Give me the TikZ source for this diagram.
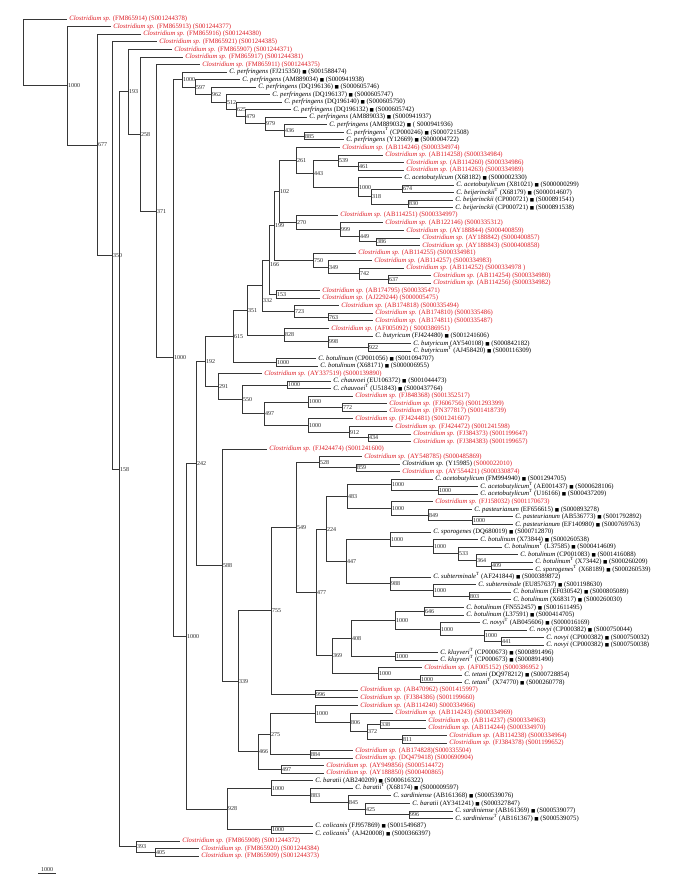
\documentclass[tikz,border=0pt]{standalone}
\usepackage{fontspec}
\setmainfont{Liberation Serif}
\newfontfamily\symf{DejaVu Sans}
\usetikzlibrary{calc}
\definecolor{cred}{RGB}{222,30,38}
\definecolor{brc}{RGB}{55,55,55}
\newcommand{\rcl}[2]{\textcolor{cred}{\textit{Clostridium sp.} (#1) (#2)}}
\newcommand{\blk}{{\symf\fontsize{4.6}{4.6}\selectfont ■}}
\newcommand{\spc}[4]{\textit{C. #1}#2 (#3) \blk{} (#4)}
\newcommand{\tT}{\textsuperscript{T}}
\newcommand{\leaf}[3]{\node[lf] (L#1) at (#2,{19.3+(#1-1)*7.54}) {#3};}
\newcommand{\inode}[6][0]{%
  \path let \p1=($(#4)!.5!(#5)$) in coordinate (#2) at (#3pt,\y1);%
  \draw[br] (#2) |- (#4);%
  \draw[br] (#2) |- (#5);%
  \node[bs] (#2t) at ([yshift=-#1pt]#2) {#6};}
\begin{document}
\begin{tikzpicture}[x=1pt,y=-1pt,
  lf/.style={anchor=west,inner xsep=2.2pt,inner ysep=0pt,text height=4.6pt,text depth=1.4pt,font=\fontsize{6.7}{7}\selectfont},
  bs/.style={anchor=west,inner xsep=1pt,inner ysep=0pt,text height=4.2pt,text depth=0.3pt,font=\fontsize{6}{6}\selectfont,text=black!85},
  br/.style={draw=brc,line width=0.9pt}]
\fill[white] (0,0) rectangle (685,886);
\useasboundingbox (0,0) rectangle (685,886);
% leaves
\leaf{1}{67}{\rcl{FM865914}{S001244378}}
\leaf{2}{111}{\rcl{FM865913}{S001244377}}
\leaf{3}{141}{\rcl{FM865916}{S001244380}}
\leaf{4}{157}{\rcl{FM865921}{S001244385}}
\leaf{5}{172}{\rcl{FM865907}{S001244371}}
\leaf{6}{183}{\rcl{FM865917}{S001244381}}
\leaf{7}{200}{\rcl{FM865911}{S001244375}}
\leaf{8}{227}{\spc{perfringens}{}{FJ215350}{S001588474}}
\leaf{9}{240}{\spc{perfringens}{}{AM889034}{S000941938}}
\leaf{10}{256}{\spc{perfringens}{}{DQ196136}{S000605746}}
\leaf{11}{270}{\spc{perfringens}{}{DQ196137}{S000605747}}
\leaf{12}{282}{\spc{perfringens}{}{DQ196140}{S000605750}}
\leaf{13}{291}{\spc{perfringens}{}{DQ196132}{S000605742}}
\leaf{14}{307}{\spc{perfringens}{}{AM889033}{S000941937}}
\leaf{15}{327}{\spc{perfringens}{}{AM889032}{ S000941936}}
\leaf{16}{344}{\spc{perfringens}{\tT}{CP000246}{S000721508}}
\leaf{17}{344}{\spc{perfringens}{}{Y12669}{S000004722}}
\leaf{18}{340}{\rcl{AB114246}{S000334974}}
\leaf{19}{383}{\rcl{AB114258}{S000334984}}
\leaf{20}{404}{\rcl{AB114260}{S000334986}}
\leaf{21}{404}{\rcl{AB114263}{S000334989}}
\leaf{22}{402}{\spc{acetobutylicum}{}{X68182}{S000002330}}
\leaf{23}{454}{\spc{acetobutylicum}{}{X81021}{S000000299}}
\leaf{24}{454}{\spc{beijerinckii}{\tT}{X68179}{S000014607}}
\leaf{25}{453}{\spc{beijerinckii}{}{CP000721}{S000891541}}
\leaf{26}{453}{\spc{beijerinckii}{}{CP000721}{S000891538}}
\leaf{27}{338}{\rcl{AB114251}{S000334997}}
\leaf{28}{383}{\rcl{AB122146}{S000335312}}
\leaf{29}{404}{\rcl{AY188844}{S000400859}}
\leaf{30}{420}{\rcl{AY188842}{S000400857}}
\leaf{31}{420}{\rcl{AY188843}{S000400858}}
\leaf{32}{356}{\rcl{AB114255}{S000334981}}
\leaf{33}{372}{\rcl{AB114257}{S000334983}}
\leaf{34}{404}{\rcl{AB114252}{S000334978 }}
\leaf{35}{431}{\rcl{AB114254}{S000334980}}
\leaf{36}{431}{\rcl{AB114256}{S000334982}}
\leaf{37}{320}{\rcl{AB174795}{S000335471}}
\leaf{38}{320}{\rcl{AJ229244}{S000005475}}
\leaf{39}{339}{\rcl{AB174818}{S000335494}}
\leaf{40}{373}{\rcl{AB174810}{S000335486}}
\leaf{41}{373}{\rcl{AB174811}{S000335487}}
\leaf{42}{329}{\rcl{AF005092}{ S000386951}}
\leaf{43}{373}{\spc{butyricum}{}{FJ424480}{S001241606}}
\leaf{44}{411}{\spc{butyricum}{}{AY540108}{S000842182}}
\leaf{45}{411}{\spc{butyricum}{\tT}{AJ458420}{S000116309}}
\leaf{46}{316}{\spc{botulinum}{}{CP001056}{S001094707}}
\leaf{47}{318}{\spc{botulinum}{}{X68171}{S000006955}}
\leaf{48}{262}{\rcl{AY337519}{S000139890}}
\leaf{49}{331}{\spc{chauvoei}{}{EU106372}{S001044473}}
\leaf{50}{331}{\spc{chauvoei}{\tT}{U51843}{S000437764}}
\leaf{51}{353}{\rcl{FJ848368}{S001352517}}
\leaf{52}{387}{\rcl{FJ606756}{S001293399}}
\leaf{53}{387}{\rcl{FN377817}{S001418739}}
\leaf{54}{353}{\rcl{FJ424481}{S001241607}}
\leaf{55}{393}{\rcl{FJ424472}{S001241598}}
\leaf{56}{411}{\rcl{FJ384373}{S001199647}}
\leaf{57}{411}{\rcl{FJ384383}{S001199657}}
\leaf{58}{267}{\rcl{FJ424474}{S001241600}}
\leaf{59}{362}{\rcl{AY548785}{S000485869}}
\leaf{60}{400}{\textit{Clostridium sp.} (Y15985) \textcolor{cred}{(S000022010)}}
\leaf{61}{400}{\rcl{AY554421}{S000330874}}
\leaf{62}{433}{\spc{acetobutylicum}{}{FM994940}{S001294705}}
\leaf{63}{478}{\spc{acetobutylicum}{\tT}{AE001437}{S000628106}}
\leaf{64}{478}{\spc{acetobutylicum}{\tT}{U16166}{S000437209}}
\leaf{65}{433}{\rcl{FJ158032}{S001170673}}
\leaf{66}{472}{\spc{pasteurianum}{}{EF656615}{S000893278}}
\leaf{67}{513}{\spc{pasteurianum}{}{AB536773}{S001792892}}
\leaf{68}{513}{\spc{pasteurianum}{}{EF140980}{S000769763}}
\leaf{69}{431}{\spc{sporogenes}{}{DQ680019}{S000712870}}
\leaf{70}{478}{\spc{botulinum}{}{X73844}{S000260538}}
\leaf{71}{502}{\spc{botulinum}{\tT}{L37585}{S000414609}}
\leaf{72}{518}{\spc{botulinum}{}{CP001083}{S001416088}}
\leaf{73}{533}{\spc{botulinum}{\tT}{X73442}{S000260209}}
\leaf{74}{533}{\spc{sporogenes}{\tT}{X68189}{S000260539}}
\leaf{75}{431}{\spc{subterminale}{\tT}{AF241844}{S000389872}}
\leaf{76}{476}{\spc{subterminale}{}{EU857637}{S001198630}}
\leaf{77}{511}{\spc{botulinum}{}{EF030542}{S000805089}}
\leaf{78}{511}{\spc{botulinum}{}{X68317}{S000260030}}
\leaf{79}{464}{\spc{botulinum}{}{FN552457}{S001611495}}
\leaf{80}{464}{\spc{botulinum}{}{L37591}{S000414705}}
\leaf{81}{480}{\spc{novyi}{\tT}{AB045606}{S000016169}}
\leaf{82}{527}{\spc{novyi}{}{CP000382}{S000750044}}
\leaf{83}{544}{\spc{novyi}{}{CP000382}{S000750032}}
\leaf{84}{544}{\spc{novyi}{}{CP000382}{S000750038}}
\leaf{85}{438}{\spc{kluyveri}{\tT}{CP000673}{S000891496}}
\leaf{86}{438}{\spc{kluyveri}{\tT}{CP000673}{S000891490}}
\leaf{87}{422}{\rcl{AF005152}{S000386952 }}
\leaf{88}{462}{\spc{tetani}{}{DQ978212}{S000728854}}
\leaf{89}{462}{\spc{tetani}{\tT}{X74770}{S000260778}}
\leaf{90}{358}{\rcl{AB470962}{S001415997}}
\leaf{91}{358}{\rcl{FJ384386}{S001199660}}
\leaf{92}{358}{\textcolor{cred}{\textit{Clostridium sp.} (AB114240) S000334966)}}
\leaf{93}{393}{\rcl{AB114243}{S000334969}}
\leaf{94}{426}{\rcl{AB114237}{S000334963}}
\leaf{95}{426}{\rcl{AB114244}{S000334970}}
\leaf{96}{447}{\rcl{AB114238}{S000334964}}
\leaf{97}{447}{\rcl{FJ384378}{S001199652}}
\leaf{98}{353}{\textcolor{cred}{\textit{Clostridium sp.} (AB174828)(S000335504)}}
\leaf{99}{353}{\rcl{DQ479418}{S000690904}}
\leaf{100}{324}{\rcl{AY949856}{S000514472}}
\leaf{101}{324}{\rcl{AY188850}{S000400865}}
\leaf{102}{313}{\spc{baratii}{}{AB240209}{S000616322}}
\leaf{103}{353}{\spc{baratii}{\tT}{X68174}{S000009597}}
\leaf{104}{391}{\spc{sardiniense}{}{AB161368}{S000539076}}
\leaf{105}{410}{\spc{baratii}{}{AY341241}{S000327847}}
\leaf{106}{453}{\spc{sardiniense}{}{AB161369}{S000539077}}
\leaf{107}{453}{\spc{sardiniense}{\tT}{AB161367}{S000539075}}
\leaf{108}{313}{\spc{colicanis}{}{FJ957869}{S001549687}}
\leaf{109}{313}{\spc{colicanis}{\tT}{AJ420008}{S000366397}}
\leaf{110}{180}{\rcl{FM865908}{S001244372}}
\leaf{111}{199}{\rcl{FM865920}{S001244384}}
\leaf{112}{199}{\rcl{FM865909}{S001244373}}
% perfringens clade
\inode{Na885}{304}{L16}{L17}{885}
\inode{Na436}{284}{L15}{Na885}{436}
\inode{Na979}{265}{L14}{Na436}{979}
\inode{Na479}{245}{L13}{Na979}{479}
\inode{Na625}{236}{L12}{Na479}{625}
\inode{Na512}{226}{L11}{Na625}{512}
\inode{Na962}{211}{L10}{Na512}{962}
\inode{Na597}{195}{L9}{Na962}{597}
\inode{NPf}{182}{L8}{Na597}{1000}
% butyricum-beijerinckii group
\inode{Nb461}{358}{L20}{L21}{461}
\inode{Nb539}{338}{L19}{Nb461}{539}
\inode{Nb674}{402}{L23}{L24}{674}
\inode{Nb830}{408}{L25}{L26}{830}
\inode{Nb318}{371}{Nb674}{Nb830}{318}
\inode{NAc}{358}{L22}{Nb318}{1000}
\inode{Nb443}{313}{Nb539}{NAc}{443}
\inode{Nb261}{296}{L18}{Nb443}{261}
\inode{Nb386}{376}{L30}{L31}{386}
\inode{Nb449}{359}{L29}{Nb386}{449}
\inode{Nb999}{340}{L28}{Nb449}{999}
\inode{Nb270}{296}{L27}{Nb999}{270}
\inode{Nb102}{279}{Nb261}{Nb270}{102}
\inode{Nb637}{388}{L35}{L36}{637}
\inode{Nb742}{359}{L34}{Nb637}{742}
\inode{Nb349}{328}{L33}{Nb742}{349}
\inode{Nb750}{313}{L32}{Nb349}{750}
\inode{Nb199}{274}{Nb102}{Nb750}{199}
\inode{Nb153}{276}{L37}{L38}{153}
\inode[4]{Nb166}{269}{Nb199}{Nb153}{166}
\inode{Nb763}{328}{L40}{L41}{763}
\inode{Nb723}{294}{L39}{Nb763}{723}
\inode[15]{Nb332}{262}{Nb166}{Nb723}{332}
\inode{Nb922}{368}{L44}{L45}{922}
\inode{Nb998}{328}{L43}{Nb922}{998}
\inode{Nb828}{284}{L42}{Nb998}{828}
\inode{Nb351}{247}{Nb332}{Nb828}{351}
\inode{NBo}{276}{L46}{L47}{1000}
\inode{Nb615}{233}{Nb351}{NBo}{615}
% chauvoei group
\inode{NCh}{287}{L49}{L50}{1000}
\inode{Nc772}{342}{L52}{L53}{772}
\inode{NCf}{308}{L51}{Nc772}{1000}
\inode{Nc434}{368}{L56}{L57}{434}
\inode{Nc912}{349}{L55}{Nc434}{912}
\inode{NCg}{308}{L54}{Nc912}{1000}
\inode{Nc497}{264}{NCf}{NCg}{497}
\inode{Nc550}{242}{NCh}{Nc497}{550}
\inode{Nc291}{218}{L48}{Nc550}{291}
\inode{Nc192}{205}{Nb615}{Nc291}{192}
% botulinum / novyi group
\inode{Nd859}{356}{L60}{L61}{859}
\inode{Nd528}{319}{L59}{Nd859}{528}
\inode{NDi}{438}{L63}{L64}{1000}
\inode{NDh}{391}{L62}{NDi}{1000}
\inode{NDk}{472}{L67}{L68}{1000}
\inode{Nd849}{428}{L66}{NDk}{849}
\inode{NDj}{391}{L65}{Nd849}{1000}
\inode{Nd483}{347}{NDh}{NDj}{483}
\inode{Nd409}{491}{L73}{L74}{409}
\inode{Nd364}{476}{L72}{Nd409}{364}
\inode{Nd533}{458}{L71}{Nd364}{533}
\inode{NDm}{433}{L70}{Nd533}{1000}
\inode{NDl}{390}{L69}{NDm}{1000}
\inode{Nd803}{469}{L77}{L78}{803}
\inode{NDn}{433}{L76}{Nd803}{1000}
\inode{Nd988}{390}{L75}{NDn}{988}
\inode{Nd447}{346}{NDl}{Nd988}{447}
\inode{Nd224}{326}{Nd483}{Nd447}{224}
\inode{Nd646}{424}{L79}{L80}{646}
\inode{Nd441}{501}{L83}{L84}{441}
\inode{NDq}{484}{L82}{Nd441}{1000}
\inode{NDp}{440}{L81}{NDq}{1000}
\inode{NDo}{395}{Nd646}{NDp}{1000}
\inode{NKl}{395}{L85}{L86}{1000}
\inode{Nd408}{351}{NDo}{NKl}{408}
\inode{NTt}{420}{L88}{L89}{1000}
\inode{NTe}{378}{L87}{NTt}{1000}
\inode{Nd369}{332}{Nd408}{NTe}{369}
\inode{Nd477}{316}{Nd224}{Nd369}{477}
\inode{Nd549}{296}{Nd528}{Nd477}{549}
\inode{Nd996}{315}{L90}{L91}{996}
\inode{Nd755}{271}{Nd549}{Nd996}{755}
\inode{Ne338}{380}{L94}{L95}{338}
\inode{Ne811}{402}{L96}{L97}{811}
\inode{Ne372}{367}{Ne338}{Ne811}{372}
\inode{Ne806}{350}{L93}{Ne372}{806}
\inode{NEr}{315}{L92}{Ne806}{1000}
\inode{Ne884}{310}{L98}{L99}{884}
\inode{Ne275}{270}{NEr}{Ne884}{275}
\inode{Ne497}{281}{L100}{L101}{497}
\inode{Ne466}{258}{Ne275}{Ne497}{466}
\inode{Ne339}{238}{Nd755}{Ne466}{339}
\inode{Ne588}{222}{L58}{Ne339}{588}
\inode{Ne242}{196}{Nc192}{Ne588}{242}
% baratii / sardiniense / colicanis
\inode{Nf996}{409}{L106}{L107}{996}
\inode{Nf425}{365}{L105}{Nf996}{425}
\inode{Nf845}{348}{L104}{Nf425}{845}
\inode{Nf883}{310}{L103}{Nf845}{883}
\inode{NBa}{271}{L102}{Nf883}{1000}
\inode{NCo}{271}{L108}{L109}{1000}
\inode{Nf928}{227}{NBa}{NCo}{928}
\inode{NBig}{186}{Ne242}{Nf928}{1000}
\inode{NMain}{173}{NPf}{NBig}{1000}
% backbone
\inode{Ng371}{156}{L7}{NMain}{371}
\inode{Ng258}{140}{L6}{Ng371}{258}
\inode{Ng193}{128}{L5}{Ng258}{193}
\inode{Ng405}{155}{L111}{L112}{405}
\inode{Ng393}{136}{L110}{Ng405}{393}
\inode{Ng158}{119}{Ng193}{Ng393}{158}
\inode{Ng350}{112}{L4}{Ng158}{350}
\inode{Ng677}{97}{L3}{Ng350}{677}
\inode{NTop}{67}{L2}{Ng677}{1000}
\path let \p1=($(L1)!.5!(NTop)$) in coordinate (root) at (23pt,\y1);
\draw[br] (root) |- (L1);
\draw[br] (root) |- (NTop);
% scale bar
\coordinate (sbA) at (38,873);
\coordinate (sbB) at (56,873);
\draw[br] (sbA) -- (sbB);
\node[bs,anchor=south,inner ysep=1pt] (sbT) at ($(sbA)!.5!(sbB)$) {1000};
\end{tikzpicture}
\end{document}
